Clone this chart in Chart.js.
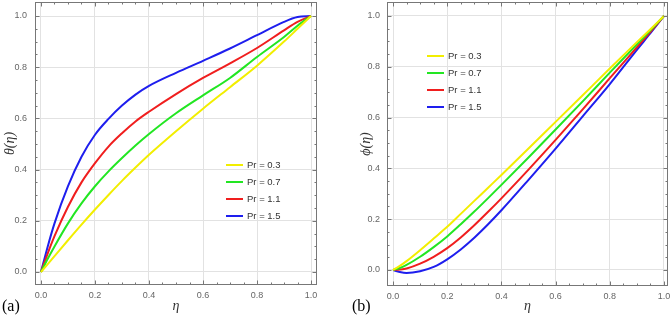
<!DOCTYPE html>
<html>
<head>
<meta charset="UTF-8">
<title>theta / phi vs eta</title>
<script src="https://cdn.jsdelivr.net/npm/chart.js"></script>
<style>
  body { margin: 0; background: #fff; }
  .box { position: absolute; top: 0; width: 335px; height: 318px; }
  #left { left: 0; }
  #right { left: 335px; }
</style>
</head>
<body>
<div class="box" id="left"><canvas id="chartA" width="335" height="318"></canvas></div>
<div class="box" id="right"><canvas id="chartB" width="335" height="318"></canvas></div>

<script>
// data
const eta = [0, 0.025, 0.05, 0.1, 0.15, 0.2, 0.25, 0.3, 0.35, 0.4, 0.5, 0.6, 0.7, 0.8, 0.9, 0.95, 1.0];
const prLabels = ['Pr = 0.3', 'Pr = 0.7', 'Pr = 1.1', 'Pr = 1.5'];
const colors = ['#f2ee00', '#22e622', '#f01e1e', '#1e1eee'];

// (a) theta(eta)
const theta03 = [0, 0.031, 0.062, 0.124, 0.185, 0.244, 0.301, 0.356, 0.408, 0.458, 0.55, 0.638, 0.722, 0.806, 0.9, 0.95, 1.0];
const theta07 = [0, 0.052, 0.1, 0.19, 0.268, 0.335, 0.393, 0.445, 0.494, 0.539, 0.62, 0.69, 0.758, 0.84, 0.918, 0.962, 1.0];
const theta11 = [0, 0.073, 0.14, 0.255, 0.35, 0.425, 0.49, 0.542, 0.588, 0.626, 0.695, 0.758, 0.815, 0.875, 0.944, 0.977, 1.0];
const theta15 = [0, 0.1, 0.19, 0.335, 0.45, 0.536, 0.598, 0.65, 0.693, 0.727, 0.778, 0.825, 0.873, 0.925, 0.977, 0.996, 1.0];

// (b) phi(eta)
const phi03 = [0, 0.016, 0.035, 0.078, 0.124, 0.17, 0.221, 0.272, 0.323, 0.374, 0.478, 0.583, 0.688, 0.793, 0.897, 0.948, 1.0];
const phi07 = [0, 0.008, 0.02, 0.052, 0.09, 0.132, 0.18, 0.23, 0.282, 0.335, 0.443, 0.553, 0.664, 0.777, 0.888, 0.944, 1.0];
const phi11 = [0, 0.002, 0.006, 0.025, 0.052, 0.086, 0.128, 0.176, 0.228, 0.282, 0.395, 0.512, 0.632, 0.755, 0.877, 0.938, 1.0];
const phi15 = [0, -0.008, -0.012, -0.005, 0.012, 0.042, 0.081, 0.127, 0.179, 0.235, 0.355, 0.478, 0.605, 0.732, 0.867, 0.932, 1.0];

const majorTicks = [0, 0.2, 0.4, 0.6, 0.8, 1.0];
const minorStep = 0.05;

const tickFont = { family: 'Liberation Sans, Arial, sans-serif', size: 9 };
const titleFont = { family: 'Liberation Serif, serif', size: 14, style: 'italic' };

// frame + inward ticks (Mathematica-like), plus in-plot legend and panel tag
const framePlugin = {
  id: 'framePlugin',
  afterDatasetsDraw(chart, args, opts) {
    const { ctx, chartArea: a, scales: { x, y } } = chart;
    ctx.save();
    ctx.strokeStyle = '#777';
    ctx.lineWidth = 1;
    ctx.strokeRect(a.left + 0.5, a.top + 0.5, a.right - a.left - 1, a.bottom - a.top - 1);

    ctx.beginPath();
    for (let v = 0; v <= 1.0001; v += minorStep) {
      const major = Math.abs(v * 5 - Math.round(v * 5)) < 1e-6;
      const len = major ? 4.5 : 2.5;
      const px = Math.round(x.getPixelForValue(v)) + 0.5;
      ctx.moveTo(px, a.bottom); ctx.lineTo(px, a.bottom - len);
      ctx.moveTo(px, a.top); ctx.lineTo(px, a.top + len);
      const py = Math.round(y.getPixelForValue(v)) + 0.5;
      ctx.moveTo(a.left, py); ctx.lineTo(a.left + len, py);
      ctx.moveTo(a.right, py); ctx.lineTo(a.right - len, py);
    }
    ctx.stroke();

    // legend
    ctx.font = '9.5px "Liberation Sans", Arial, sans-serif';
    ctx.textBaseline = 'middle';
    chart.data.datasets.forEach((ds, i) => {
      const yy = opts.legendY + i * 17;
      ctx.strokeStyle = ds.borderColor;
      ctx.lineWidth = 2;
      ctx.beginPath();
      ctx.moveTo(opts.legendX, yy);
      ctx.lineTo(opts.legendX + 17, yy);
      ctx.stroke();
      ctx.fillStyle = '#333';
      ctx.fillText(ds.label, opts.legendX + 21, yy + 0.5);
    });

    // panel tag
    ctx.font = '16px "Liberation Serif", serif';
    ctx.fillStyle = '#000';
    ctx.textBaseline = 'alphabetic';
    ctx.fillText(opts.tag, opts.tagX, 311);
    ctx.restore();
  }
};

function makeChart(id, series, yTitle, box) {
  const datasets = series.map((s, i) => ({
    label: prLabels[i],
    data: eta.map((e, k) => ({ x: e, y: s[k] })),
    borderColor: colors[i],
    borderWidth: 2,
    pointRadius: 0,
    fill: false,
    cubicInterpolationMode: 'monotone'
  }));

  return new Chart(document.getElementById(id), {
    type: 'line',
    data: { datasets },
    options: {
      responsive: false,
      animation: false,
      layout: { padding: { top: box.top, right: box.padRight, left: 0, bottom: 0 } },
      plugins: {
        legend: { display: false },
        tooltip: { enabled: false },
        framePlugin: { legendX: box.legendX, legendY: box.legendY, tag: box.tag, tagX: box.tagX }
      },
      scales: {
        x: {
          type: 'linear',
          min: box.xMin, max: box.xMax,
          afterBuildTicks: s => { s.ticks = majorTicks.map(v => ({ value: v })); },
          afterFit: s => { s.height = box.xHeight; s.paddingLeft = 0; s.paddingRight = 0; },
          grid: { color: '#e2e2e2', drawTicks: false },
          border: { display: false },
          ticks: { font: tickFont, color: '#666', padding: 5, maxRotation: 0,
                   callback: v => v.toFixed(1) },
          title: { display: true, text: 'η', font: titleFont, color: '#333',
                   padding: { top: 0, bottom: 3 } }
        },
        y: {
          type: 'linear',
          min: box.yMin, max: box.yMax,
          afterBuildTicks: s => { s.ticks = majorTicks.map(v => ({ value: v })); },
          afterFit: s => { s.width = box.yWidth; s.paddingTop = 0; s.paddingBottom = 0; },
          grid: { color: '#e2e2e2', drawTicks: false },
          border: { display: false },
          ticks: { font: tickFont, color: '#666', padding: box.yPad,
                   callback: v => v.toFixed(1) },
          title: { display: true, text: yTitle, font: titleFont, color: '#333',
                   padding: { top: box.yTitlePad, bottom: 0 } }
        }
      }
    },
    plugins: [framePlugin]
  });
}

makeChart('chartA', [theta03, theta07, theta11, theta15], 'θ(η)', {
  top: 2, padRight: 18, xHeight: 33, yWidth: 35, yPad: 8, yTitlePad: 2,
  xMin: -0.0222, xMax: 1.0222, yMin: -0.0508, yMax: 1.0547,
  legendX: 226, legendY: 165, tag: '(a)', tagX: 2
});

makeChart('chartB', [phi03, phi07, phi11, phi15], 'ϕ(η)', {
  top: 2, padRight: 2, xHeight: 32, yWidth: 52, yPad: 7, yTitlePad: 23,
  xMin: -0.0222, xMax: 1.0148, yMin: -0.063, yMax: 1.055,
  legendX: 92, legendY: 56, tag: '(b)', tagX: 17
});
</script>
</body>
</html>
